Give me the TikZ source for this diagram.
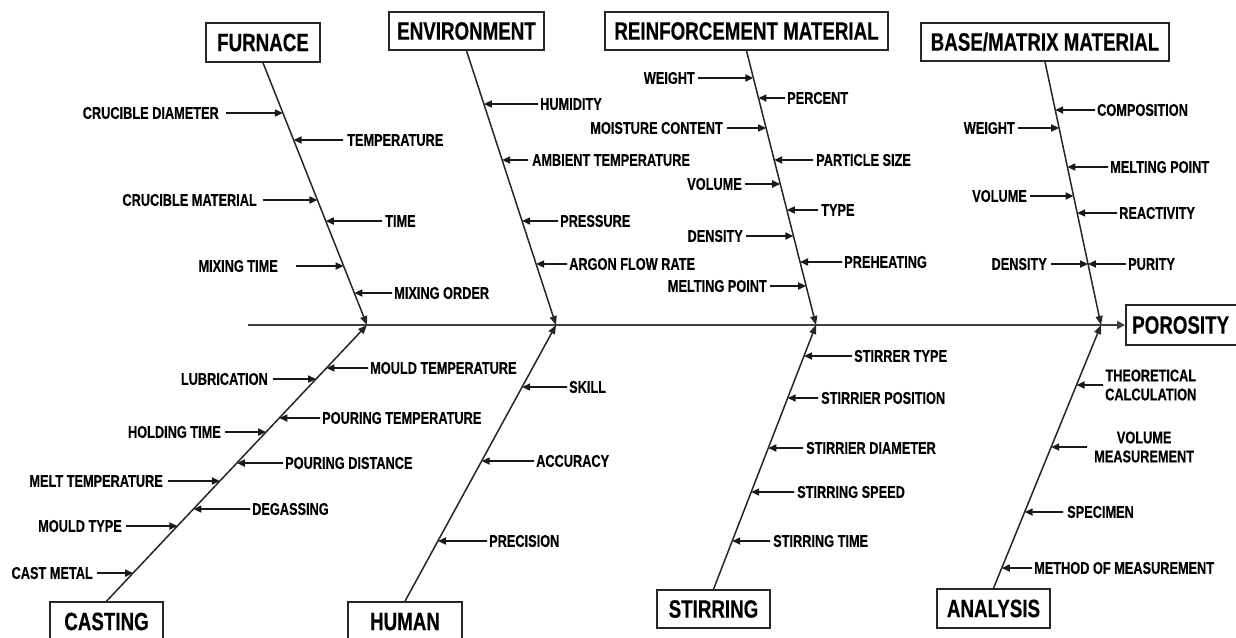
\documentclass[tikz,border=0pt]{standalone}
\usepackage{fontspec}
\newfontfamily\labfont[FakeStretch=0.75, FakeBold=0.35]{Liberation Sans}
\newfontfamily\titfont[FakeStretch=0.75, FakeBold=0.35]{Liberation Sans}
\usetikzlibrary{arrows.meta}
\tikzset{
  lab/.style={font=\labfont\bfseries\fontsize{17}{19}\selectfont, inner sep=0pt, text height=11.7pt, text depth=0pt},
  labtwo/.style={font=\labfont\bfseries\fontsize{17}{19}\selectfont, inner sep=0pt, align=center},
  titlebox/.style={draw=black!85, line width=1.6pt, font=\titfont\bfseries\fontsize{25}{28}\selectfont, inner sep=0pt, text height=17.2pt, text depth=0pt},
  titletext/.style={font=\titfont\bfseries\fontsize{25}{28}\selectfont, inner sep=0pt, text height=17.2pt, text depth=0pt},
  branch/.style={line width=1.5pt, draw=black!85, -{Triangle[length=9pt,width=7pt]}},
  cause/.style={line width=1.7pt, draw=black!90, -{Triangle[length=8pt,width=7pt]}},
  spine/.style={line width=2.2pt, draw=black!75, -{Triangle[length=8pt,width=8pt]}}
}
% left cause: name, branch start, branch end, text east point, gap, text
\newcommand{\causeL}[6]{%
  \node[lab, anchor=east] (#1) at #4 {#6};
  \draw[cause] ([xshift=#5]#1.east) -- (intersection of #2--#3 and #1.east--#1.west);
}
% right cause: name, branch start, branch end, text west point, gap, text
\newcommand{\causeR}[6]{%
  \node[lab, anchor=west] (#1) at #4 {#6};
  \draw[cause] ([xshift=-#5]#1.west) -- (intersection of #2--#3 and #1.east--#1.west);
}
\begin{document}
\begin{tikzpicture}[x=1pt, y=-1pt]
\useasboundingbox (0,0) rectangle (1236,637);
\fill[white] (0,0) rectangle (1236,637);

% junctions on the spine
\coordinate (j1) at (367,325);
\coordinate (j2) at (556,325);
\coordinate (j3) at (816,325);
\coordinate (j4) at (1101,325);
\coordinate (sp) at (248,325);

% category boxes
\node[titlebox, minimum width=114pt, minimum height=39pt] (f) at (263,42.5) {FURNACE};
\node[titlebox, minimum width=155pt, minimum height=38pt] (e) at (466.5,31) {ENVIRONMENT};
\node[titlebox, minimum width=283pt, minimum height=38pt] (r) at (746.5,31) {REINFORCEMENT MATERIAL};
\node[titlebox, minimum width=248pt, minimum height=38pt] (b) at (1045,42) {BASE/MATRIX MATERIAL};
\node[titlebox, minimum width=113pt, minimum height=39pt] (c) at (106.5,621.5) {CASTING};
\node[titlebox, minimum width=114pt, minimum height=39pt] (h) at (405,621.5) {HUMAN};
\node[titlebox, minimum width=113pt, minimum height=38pt] (s) at (713.5,609) {STIRRING};
\node[titlebox, minimum width=113pt, minimum height=39pt] (a) at (993.5,608.5) {ANALYSIS};
\node[titlebox, anchor=west, minimum width=118pt, minimum height=40pt] (por) at (1125,325) {};
\node[titletext, anchor=west] (portext) at (1132,325) {POROSITY};

% spine
\draw[spine] (sp) -- (por.west);

% branches
\draw[branch] (f.south) -- (j1);
\draw[branch] (e.south) -- (j2);
\draw[branch] (r.south) -- (j3);
\draw[branch] (b.south) -- (j4);
\draw[branch] (c.north) -- (j1);
\draw[branch] (h.north) -- (j2);
\draw[branch] (s.north) -- (j3);
\draw[branch] (a.north) -- (j4);

% FURNACE
\causeL{f1}{f.south}{j1}{(219,113)}{7}{CRUCIBLE DIAMETER}
\causeR{f2}{f.south}{j1}{(347,140)}{4}{TEMPERATURE}
\causeL{f3}{f.south}{j1}{(257,200)}{6}{CRUCIBLE MATERIAL}
\causeR{f4}{f.south}{j1}{(385,221)}{3}{TIME}
\causeL{f5}{f.south}{j1}{(278,266)}{18}{MIXING TIME}
\causeR{f6}{f.south}{j1}{(394,293)}{2}{MIXING ORDER}

% ENVIRONMENT
\causeR{e1}{e.south}{j2}{(540,104)}{2}{HUMIDITY}
\causeR{e2}{e.south}{j2}{(532,160)}{4}{AMBIENT TEMPERATURE}
\causeR{e3}{e.south}{j2}{(560,221)}{2}{PRESSURE}
\causeR{e4}{e.south}{j2}{(569,264)}{2}{ARGON FLOW RATE}

% REINFORCEMENT MATERIAL
\causeL{r1}{r.south}{j3}{(695,78)}{3}{WEIGHT}
\causeR{r2}{r.south}{j3}{(787,98)}{2}{PERCENT}
\causeL{r3}{r.south}{j3}{(723,128)}{4}{MOISTURE CONTENT}
\causeR{r4}{r.south}{j3}{(816,160)}{3}{PARTICLE SIZE}
\causeL{r5}{r.south}{j3}{(742,184)}{3}{VOLUME}
\causeR{r6}{r.south}{j3}{(821,210)}{3}{TYPE}
\causeL{r7}{r.south}{j3}{(743,236)}{3}{DENSITY}
\causeR{r8}{r.south}{j3}{(844,262)}{2}{PREHEATING}
\causeL{r9}{r.south}{j3}{(767,286)}{3}{MELTING POINT}

% BASE/MATRIX MATERIAL
\causeR{b1}{b.south}{j4}{(1097,110)}{2}{COMPOSITION}
\causeL{b2}{b.south}{j4}{(1015,128)}{3}{WEIGHT}
\causeR{b3}{b.south}{j4}{(1110,167)}{2}{MELTING POINT}
\causeL{b4}{b.south}{j4}{(1027,196)}{3}{VOLUME}
\causeR{b5}{b.south}{j4}{(1119,213)}{2}{REACTIVITY}
\causeL{b6}{b.south}{j4}{(1047,264)}{4}{DENSITY}
\causeR{b7}{b.south}{j4}{(1128,264)}{2}{PURITY}

% CASTING
\causeR{c1}{c.north}{j1}{(370,368)}{2}{MOULD TEMPERATURE}
\causeL{c2}{c.north}{j1}{(268,379)}{5}{LUBRICATION}
\causeR{c3}{c.north}{j1}{(322,418)}{2}{POURING TEMPERATURE}
\causeL{c4}{c.north}{j1}{(221,432)}{4}{HOLDING TIME}
\causeR{c5}{c.north}{j1}{(285,463)}{2}{POURING DISTANCE}
\causeL{c6}{c.north}{j1}{(163,481)}{5}{MELT TEMPERATURE}
\causeR{c7}{c.north}{j1}{(252,509)}{2}{DEGASSING}
\causeL{c8}{c.north}{j1}{(122,526)}{4}{MOULD TYPE}
\causeL{c9}{c.north}{j1}{(93,573)}{4}{CAST METAL}

% HUMAN
\causeR{h1}{h.north}{j2}{(569,387)}{2}{SKILL}
\causeR{h2}{h.north}{j2}{(536,461)}{2}{ACCURACY}
\causeR{h3}{h.north}{j2}{(489,541)}{2}{PRECISION}

% STIRRING
\causeR{s1}{s.north}{j3}{(854,356)}{2}{STIRRER TYPE}
\causeR{s2}{s.north}{j3}{(821,398)}{3}{STIRRIER POSITION}
\causeR{s3}{s.north}{j3}{(806,448)}{3}{STIRRIER DIAMETER}
\causeR{s4}{s.north}{j3}{(797,492)}{3}{STIRRING SPEED}
\causeR{s5}{s.north}{j3}{(773,541)}{3}{STIRRING TIME}

% ANALYSIS
\node[labtwo, anchor=west] (a1) at (1105,385) {THEORETICAL\\CALCULATION};
\draw[cause] ([xshift=-2]a1.west) -- (intersection of a.north--j4 and a1.east--a1.west);
\node[labtwo, anchor=west] (a2) at (1094,447) {VOLUME\\MEASUREMENT};
\draw[cause] ([xshift=-7]a2.west) -- (intersection of a.north--j4 and a2.east--a2.west);
\causeR{a3}{a.north}{j4}{(1067,512)}{4}{SPECIMEN}
\causeR{a4}{a.north}{j4}{(1034,568)}{2}{METHOD OF MEASUREMENT}
\end{tikzpicture}
\end{document}
